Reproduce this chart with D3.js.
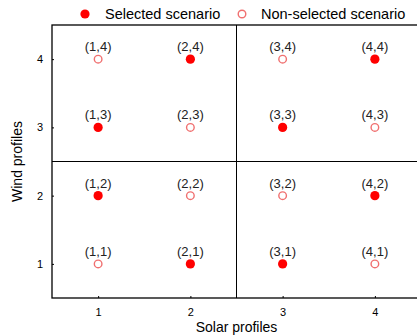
<!DOCTYPE html>
<html>
<head>
<meta charset="utf-8">
<script src="https://cdn.jsdelivr.net/npm/d3@7"></script>
<style>
  html, body { margin: 0; padding: 0; background: #fff; }
  svg { display: block; font-family: "Liberation Sans", Arial, sans-serif; }
</style>
</head>
<body>
<svg id="chart" width="417" height="336"></svg>
<script>
// Scenario grid: solar profile (x) by wind profile (y)
const solarProfiles = [1, 2, 3, 4];
const windProfiles = [1, 2, 3, 4];
const selectedSolar = [1, 2, 4, 3, 1, 4, 2, 3];
const selectedWind  = [3, 4, 4, 3, 2, 2, 1, 1];
const otherSolar = [1, 3, 2, 4, 2, 3, 1, 4];
const otherWind  = [4, 4, 3, 3, 2, 2, 1, 1];
const legendLabels = ["Selected scenario", "Non-selected scenario"];
const dividerSolar = [2.5];
const dividerWind = [2.5];

const svg = d3.select("#chart");
const x = d3.scaleLinear().domain([0.5, 4.5]).range([52, 421]);
const y = d3.scaleLinear().domain([0.5, 4.5]).range([298, 25]);

const RED = "#ff0000";
const PINK = "#f07070";

// frame
svg.append("rect")
  .attr("x", x(0.5)).attr("y", y(4.5))
  .attr("width", x(4.5) - x(0.5)).attr("height", y(0.5) - y(4.5))
  .attr("fill", "none").attr("stroke", "#000").attr("stroke-width", 1.3);

// quadrant dividers
svg.selectAll("line.vdiv").data(dividerSolar).join("line")
  .attr("x1", d => x(d)).attr("x2", d => x(d))
  .attr("y1", y(4.5)).attr("y2", y(0.5))
  .attr("stroke", "#000").attr("stroke-width", 1);
svg.selectAll("line.hdiv").data(dividerWind).join("line")
  .attr("y1", d => y(d)).attr("y2", d => y(d))
  .attr("x1", x(0.5)).attr("x2", x(4.5))
  .attr("stroke", "#000").attr("stroke-width", 1);

// axes
const xAxis = svg.append("g")
  .attr("transform", `translate(0,${y(0.5)})`)
  .call(d3.axisBottom(x).tickValues(solarProfiles).tickFormat(d3.format("d"))
    .tickSizeInner(-2).tickSizeOuter(0).tickPadding(10));
const yAxis = svg.append("g")
  .attr("transform", `translate(${x(0.5)},0)`)
  .call(d3.axisLeft(y).tickValues(windProfiles).tickFormat(d3.format("d"))
    .tickSizeInner(-2).tickSizeOuter(0).tickPadding(9));
[xAxis, yAxis].forEach(g => {
  g.select(".domain").remove();
  g.selectAll(".tick line").attr("stroke", "#000");
  g.selectAll(".tick text").attr("font-size", 11).attr("fill", "#000")
    .attr("font-family", "Liberation Sans, Arial, sans-serif");
});

// axis titles
svg.append("text")
  .attr("x", x(2.5)).attr("y", 332)
  .attr("text-anchor", "middle").attr("font-size", 14).attr("fill", "#000")
  .text("Solar profiles");
svg.append("text")
  .attr("transform", `translate(22,${y(2.5)}) rotate(-90)`)
  .attr("text-anchor", "middle").attr("font-size", 14).attr("fill", "#000")
  .text("Wind profiles");

// points
const selected = selectedSolar.map((s, i) => ({ s, w: selectedWind[i], sel: true }));
const others = otherSolar.map((s, i) => ({ s, w: otherWind[i], sel: false }));
const all = selected.concat(others);

svg.selectAll("text.plabel").data(all).join("text")
  .attr("class", "plabel")
  .attr("x", d => x(d.s)).attr("y", d => y(d.w) - 8)
  .attr("text-anchor", "middle").attr("font-size", 13).attr("fill", "#222")
  .text(d => `(${d.s},${d.w})`);

svg.selectAll("circle.sel").data(selected).join("circle")
  .attr("cx", d => x(d.s)).attr("cy", d => y(d.w)).attr("r", 4.6)
  .attr("fill", RED);
svg.selectAll("circle.oth").data(others).join("circle")
  .attr("cx", d => x(d.s)).attr("cy", d => y(d.w)).attr("r", 3.8)
  .attr("fill", "#fff").attr("stroke", PINK).attr("stroke-width", 1.4);

// legend
const legend = svg.append("g");
legend.append("circle").attr("cx", 85).attr("cy", 14).attr("r", 4.6).attr("fill", RED);
legend.append("text").attr("x", 105).attr("y", 19).attr("font-size", 14.5).attr("fill", "#000")
  .text(legendLabels[0]);
legend.append("circle").attr("cx", 242).attr("cy", 14).attr("r", 3.8)
  .attr("fill", "#fff").attr("stroke", PINK).attr("stroke-width", 1.4);
legend.append("text").attr("x", 261).attr("y", 19).attr("font-size", 14.5).attr("fill", "#000")
  .text(legendLabels[1]);
</script>
</body>
</html>
